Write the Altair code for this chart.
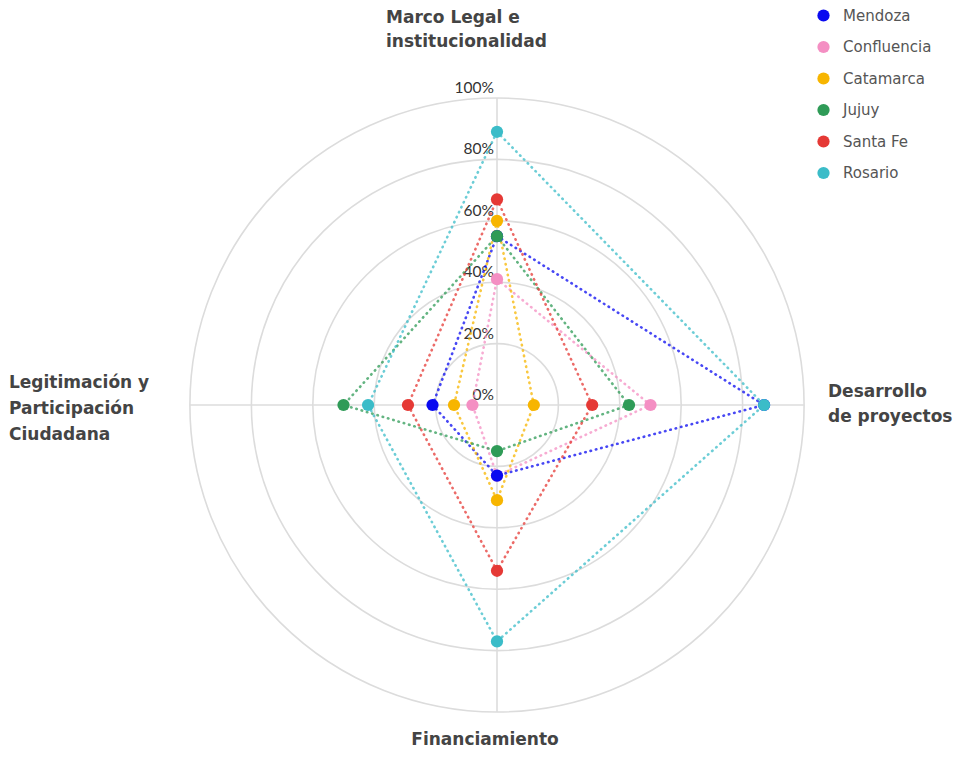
import altair as alt
import pandas as pd

regions = ["Mendoza", "Confluencia", "Catamarca", "Jujuy", "Santa Fe", "Rosario"]
colors = ["#0a0af0", "#f48fc3", "#f7b500", "#2f9b57", "#e53935", "#3bbcc8"]
draw_order = ["Confluencia", "Mendoza", "Catamarca", "Jujuy", "Santa Fe", "Rosario"]

dimensions = ["Marco Legal e institucionalidad", "Desarrollo de proyectos",
              "Financiamiento", "Legitimación y Participación Ciudadana"]
angles = [0, 90, 180, 270]

marco_legal = [55, 41, 60, 55, 67, 89]
desarrollo = [87, 50, 12, 43, 31, 87]
financiamiento = [23, 23, 31, 15, 54, 77]
legitimacion = [21, 8, 14, 50, 29, 42]

rings = [20, 40, 60, 80, 100]
ring_ticks = [0, 20, 40, 60, 80, 100]

series = [marco_legal, desarrollo, financiamiento, legitimacion]
rows = []
for reg in draw_order:
    i = regions.index(reg)
    for k in range(5):
        d = k % 4
        rows.append({"region": reg, "dim": dimensions[d], "angle": angles[d],
                     "value": series[d][i], "ord": k})
df = pd.DataFrame(rows)

R = 307
xs = alt.Scale(domain=[-100, 100], nice=False, zero=False)
ys = alt.Scale(domain=[-100, 100], nice=False, zero=False)

ring_df = pd.DataFrame({"r": rings})
ring_layer = alt.Chart(ring_df).mark_arc(
    theta=0, theta2=6.2832, fillOpacity=0, stroke="#dcdcdc", strokeWidth=1.6
).encode(radius=alt.Radius("r:Q", stack=False,
                           scale=alt.Scale(type="linear", domain=[0, 100], range=[0, R], zero=True)))

axes_df = pd.DataFrame({"x": [0, -100], "y": [-100, 0], "x2": [0, 100], "y2": [100, 0]})
axes_layer = alt.Chart(axes_df).mark_rule(color="#dcdcdc", strokeWidth=1.6).encode(
    x=alt.X("x:Q", scale=xs, axis=None), y=alt.Y("y:Q", scale=ys, axis=None),
    x2="x2:Q", y2="y2:Q")

tick_df = pd.DataFrame({"v": ring_ticks, "label": [f"{t}%" for t in ring_ticks]})
tick_layer = alt.Chart(tick_df).transform_calculate(zero="0").mark_text(
    align="right", baseline="alphabetic", dx=-3, dy=-5, font="Lato", fontSize=15.5, color="#333"
).encode(x=alt.X("zero:Q", scale=xs, axis=None), y=alt.Y("v:Q", scale=ys, axis=None), text="label:N")

base = alt.Chart(df).transform_calculate(
    px="datum.value * sin(datum.angle * PI / 180)",
    py="datum.value * cos(datum.angle * PI / 180)",
    serie="datum.region")

lines = base.mark_line(strokeDash=[0.5, 5], strokeCap="round", strokeWidth=2.6, opacity=0.75).encode(
    x=alt.X("px:Q", scale=xs, axis=None), y=alt.Y("py:Q", scale=ys, axis=None),
    stroke=alt.Stroke("serie:N", scale=alt.Scale(domain=regions, range=colors), legend=None),
    order="ord:Q", detail="serie:N")

points = base.transform_filter("datum.ord < 4").mark_circle(size=150, opacity=1).encode(
    x=alt.X("px:Q", scale=xs, axis=None), y=alt.Y("py:Q", scale=ys, axis=None),
    color=alt.Color("region:N", scale=alt.Scale(domain=regions, range=colors), title=None,
                    legend=alt.Legend(orient="none", legendX=626, legendY=-90, padding=0,
                                      symbolType="circle", symbolSize=150, symbolOpacity=1,
                                      symbolStrokeWidth=0, labelFont="DejaVu Sans", labelFontSize=15,
                                      labelColor="#555", rowPadding=15.5, labelOffset=12)))

title_style = dict(font="DejaVu Sans", fontSize=17, fontWeight="bold", color="#444", lineBreak="\n")

def title_layer(text, xv, yv, **kw):
    d = pd.DataFrame({"t": [text], "x": [xv], "y": [yv]})
    return alt.Chart(d).mark_text(baseline="alphabetic", **title_style, **kw).encode(
        x=alt.X("x:Q", scale=xs, axis=None), y=alt.Y("y:Q", scale=ys, axis=None), text="t:N")

t_top = title_layer("Marco Legal e\ninstitucionalidad", 0, 100, align="left", dx=-111, dy=-75, lineHeight=24)
t_right = title_layer("Desarrollo\nde proyectos", 100, 0, align="left", dx=24, dy=-8, lineHeight=25)
t_bottom = title_layer("Financiamiento", 0, -100, align="center", dx=-12, dy=33)
t_left = title_layer("Legitimación y\nParticipación\nCiudadana", -100, 0, align="left", dx=-181, dy=-17, lineHeight=26)

chart = alt.layer(ring_layer, axes_layer, tick_layer, lines, points, t_top, t_right, t_bottom, t_left).resolve_scale(
    color="independent", stroke="independent"
).properties(
    width=2 * R, height=2 * R,
    padding={"left": 182, "top": 90, "right": 155, "bottom": 36},
    autosize=alt.AutoSizeParams(type="none"),
).configure_view(stroke=None)

chart.save("out.html", embed_options={"renderer": "svg", "actions": False})
